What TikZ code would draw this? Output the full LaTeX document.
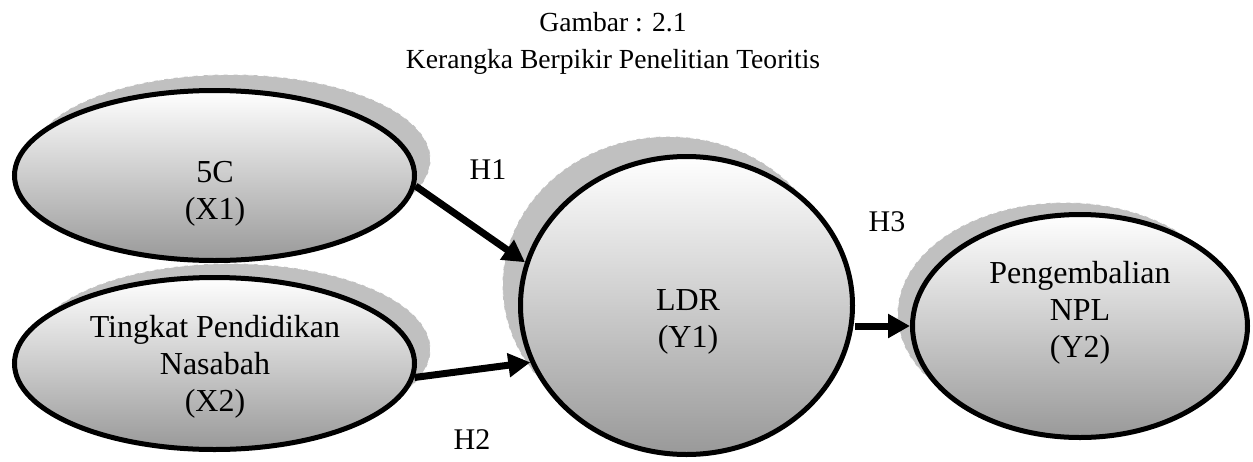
\documentclass[tikz,border=0pt]{standalone}
\usepackage{fontspec}
\setmainfont{Liberation Serif}
\usetikzlibrary{shapes.geometric}
\usetikzlibrary{arrows.meta}
\usetikzlibrary{shadows}
\definecolor{shadowgray}{RGB}{192,192,192}
\tikzset{
	node_base/.style = {
		align=center,
		inner sep=0pt,
		text centered
	},
	node_oval/.style = {
		node_base,
		ellipse,
		draw=black,
		line width=2.5pt,
		top color=white,
		bottom color=black!40,
		general shadow={fill=shadowgray, draw=white, densely dashed, line width=0.4pt, #1}
	},
	node_text/.style = {
		node_base,
		font=\fontsize{16}{18.5}\selectfont
	},
	node_hyp/.style = {
		node_base,
		font=\fontsize{15}{18}\selectfont
	},
	node_title/.style = {
		node_base,
		font=\fontsize{13.8}{18.5}\selectfont
	},
	link/.style = {
		line width=3.5pt
	}
}

\begin{document}
\begin{tikzpicture}[->,>={Triangle[length=11pt,width=11.5pt]},x=0.5pt,y=-0.5pt]
\useasboundingbox (0,0) rectangle (1253,461);
% title
\node [node_title] (title) at (613,43) {Gambar : 2.1\\Kerangka Berpikir Penelitian Teoritis};
% variables
\node [node_oval={shadow xshift=8pt, shadow yshift=8pt}, minimum width=200pt, minimum height=85pt] (x1) at (214.5,175.5) {};
\node [node_oval={shadow xshift=8pt, shadow yshift=7pt}, minimum width=200pt, minimum height=86pt] (x2) at (214.5,363.5) {};
\node [node_oval={shadow xshift=-9pt, shadow yshift=10pt}, minimum width=166pt, minimum height=149pt] (ldr) at (686.5,305.5) {};
\node [node_oval={shadow xshift=-7.5pt, shadow yshift=6pt}, minimum width=167.5pt, minimum height=111.5pt] (y2) at (1080,326) {};
\node [node_text] (x1txt) at (215,194) {5C\\(X1)};
\node [node_text] (x2txt) at (215,367) {Tingkat Pendidikan\\Nasabah\\(X2)};
\node [node_text] (ldrtxt) at (688,322) {LDR\\(Y1)};
\node [node_text] (y2txt) at (1080,313) {Pengembalian\\NPL\\(Y2)};
% hypotheses
\node [node_hyp] (h1) at (488,170) {H1};
\node [node_hyp] (h2) at (472,440) {H2};
\node [node_hyp] (h3) at (887,222) {H3};
\draw [link] (x1.-3) -- (ldr.165);
\draw [link] (x2.-4) -- (ldr.200);
\draw [link] (ldr.east |- y2.west) -- (y2.west);
\end{tikzpicture}
\end{document}
